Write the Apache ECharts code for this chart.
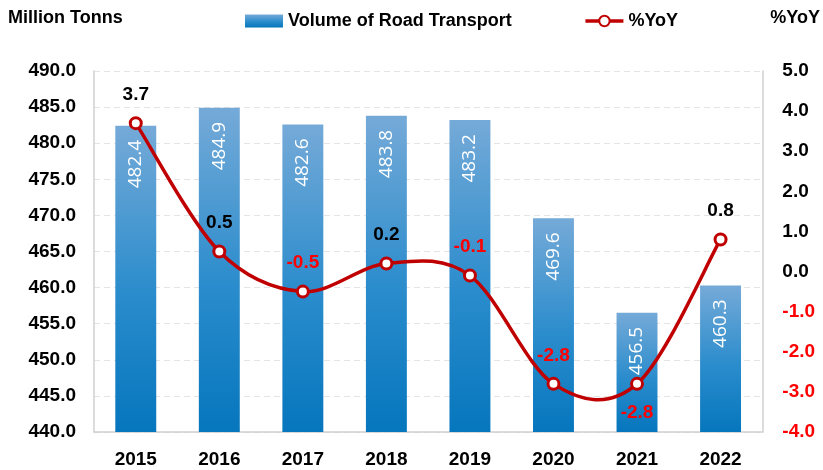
<!DOCTYPE html>
<html>
<head>
<meta charset="utf-8">
<script src="https://cdn.jsdelivr.net/npm/echarts@6/dist/echarts.min.js"></script>
<style>
  html, body { margin: 0; padding: 0; background: #fff; }
  #chart { width: 823px; height: 470px; }
</style>
</head>
<body>
<div id="chart"></div>
<script>
// 数据
const years = ['2015', '2016', '2017', '2018', '2019', '2020', '2021', '2022'];
const volume = [482.4, 484.9, 482.6, 483.8, 483.2, 469.6, 456.5, 460.3];
const yoy = [3.7, 0.5, -0.5, 0.2, -0.1, -2.8, -2.8, 0.8];
// 标签在点上方还是下方
const yoyLabelPos = ['top', 'top', 'top', 'top', 'top', 'top', 'bottom', 'top'];

const font = '"Liberation Sans", Arial, sans-serif';
const lineColor = '#c00000';
const chart = echarts.init(document.getElementById('chart'));

const barGradient = new echarts.graphic.LinearGradient(0, 0, 0, 1, [
    { offset: 0, color: '#75aad8' },
    { offset: 0.55, color: '#2a8ccc' },
    { offset: 1, color: '#0676bd' }
]);

// Excel 风格的平滑曲线：每段用相邻点算控制点
function renderSmoothSegment(params, api) {
    const i = params.dataIndex;
    const n = yoy.length;
    if (i >= n - 1) return null;
    const pt = k => {
        k = Math.max(0, Math.min(n - 1, k));
        return api.coord([k, yoy[k]]);
    };
    const p0 = pt(i - 1), p1 = pt(i), p2 = pt(i + 1), p3 = pt(i + 2);
    return {
        type: 'bezierCurve',
        shape: {
            x1: p1[0], y1: p1[1],
            x2: p2[0], y2: p2[1],
            cpx1: p1[0] + (p2[0] - p0[0]) / 6,
            cpy1: p1[1] + (p2[1] - p0[1]) / 6,
            cpx2: p2[0] - (p3[0] - p1[0]) / 6,
            cpy2: p2[1] - (p3[1] - p1[1]) / 6
        },
        style: { stroke: lineColor, lineWidth: 3.5, fill: 'none' },
        silent: true
    };
}

const option = {
    backgroundColor: '#fff',
    textStyle: { fontFamily: font },
    legend: {
        top: 7,
        left: 240,
        itemGap: 72,
        itemWidth: 38,
        itemHeight: 13,
        textStyle: { fontFamily: font, fontSize: 18, fontWeight: 'bold', color: '#000' },
        data: [
            { name: 'Volume of Road Transport', icon: 'rect' },
            { name: '%YoY', lineStyle: { opacity: 1, color: lineColor, width: 3.5 } }
        ]
    },
    grid: { left: 94, right: 60, top: 71, bottom: 38 },
    xAxis: {
        type: 'category',
        data: years,
        axisLine: { onZero: false, lineStyle: { color: '#d0d0d0', width: 1.5 } },
        axisTick: { show: false },
        axisLabel: { color: '#000', fontSize: 19, fontWeight: 'bold', margin: 18, fontFamily: font }
    },
    yAxis: [
        {
            type: 'value',
            min: 440, max: 490, interval: 5,
            name: 'Million Tonns',
            nameLocation: 'end',
            nameGap: 44,
            nameTextStyle: { color: '#000', fontSize: 18, fontWeight: 'bold', align: 'left', padding: [0, 0, 0, -86], fontFamily: font },
            axisLine: { show: true, lineStyle: { color: '#d0d0d0', width: 1.5 } },
            axisTick: { show: false },
            axisLabel: {
                color: '#000', fontSize: 19, fontWeight: 'bold', margin: 18, fontFamily: font,
                formatter: v => v.toFixed(1)
            },
            splitLine: { lineStyle: { color: '#e4e4e4', type: [6, 4] } }
        },
        {
            type: 'value',
            min: -4, max: 5, interval: 1,
            name: '%YoY',
            nameLocation: 'end',
            nameGap: 44,
            nameTextStyle: { color: '#000', fontSize: 18, fontWeight: 'bold', align: 'left', padding: [0, 0, 0, 8], fontFamily: font },
            axisLine: { show: true, lineStyle: { color: '#d0d0d0', width: 1.5 } },
            axisTick: { show: false },
            axisLabel: {
                fontSize: 19, fontWeight: 'bold', margin: 20, fontFamily: font,
                formatter: v => v < 0 ? '{n|' + v.toFixed(1) + '}' : '{p|' + v.toFixed(1) + '}',
                rich: {
                    n: { color: '#ff0000', fontSize: 19, fontWeight: 'bold', fontFamily: font },
                    p: { color: '#000', fontSize: 19, fontWeight: 'bold', fontFamily: font }
                }
            },
            splitLine: { show: false }
        }
    ],
    series: [
        {
            name: 'Volume of Road Transport',
            type: 'bar',
            data: volume,
            barWidth: '49%',
            itemStyle: { color: barGradient },
            label: {
                show: true,
                position: 'insideTop',
                rotate: 90,
                align: 'right',
                verticalAlign: 'middle',
                distance: 14,
                color: '#fff',
                fontSize: 19,
                fontFamily: '"Open Sans", sans-serif',
                formatter: p => p.value.toFixed(1)
            }
        },
        {
            name: 'smooth',
            type: 'custom',
            yAxisIndex: 1,
            data: yoy.map((v, i) => [i, v]),
            renderItem: renderSmoothSegment,
            z: 4
        },
        {
            name: '%YoY',
            type: 'line',
            yAxisIndex: 1,
            data: yoy.map((v, i) => ({
                value: v,
                label: {
                    position: yoyLabelPos[i],
                    color: v < 0 ? '#ff0000' : '#000'
                }
            })),
            symbol: 'circle',
            symbolSize: 11,
            lineStyle: { color: lineColor, width: 3.5, opacity: 0 },
            itemStyle: { color: '#fff', borderColor: lineColor, borderWidth: 3 },
            label: {
                show: true,
                fontSize: 19,
                fontWeight: 'bold',
                distance: 12,
                fontFamily: font,
                formatter: p => p.value.toFixed(1)
            },
            z: 5
        }
    ]
};

chart.setOption(option);
</script>
</body>
</html>
